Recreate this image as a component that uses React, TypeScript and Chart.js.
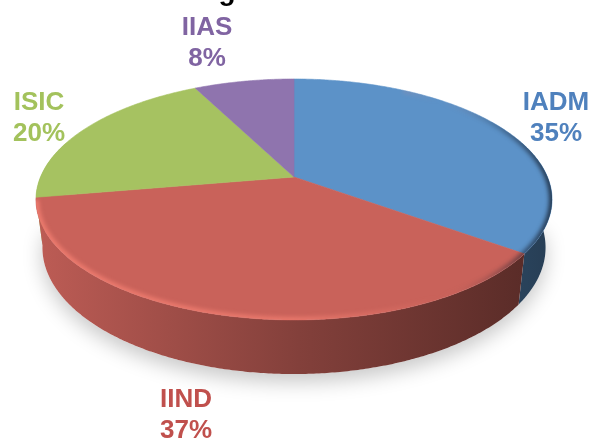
import React, { useEffect, useRef } from "react";
import { Chart, registerables } from "chart.js";

Chart.register(...registerables);

const categories = ["IADM", "IIND", "ISIC", "IIAS"];
const values = [35, 37.3, 20.2, 7.5];
const faceColors = ["#5c92c8", "#c9625a", "#a6c261", "#8f74ae"];
const labelColors = ["#4f81bd", "#c0504d", "#a3c25c", "#8064a2"];
const labelCenters = [[556, 103], [186, 400], [39, 103], [207, 28]];
const titleFragment = "g";

const CX = 294, APEX_Y = 177, K = 0.1867, RX = 253.5, RY = 116.3;
const EY = 199, DEPTH = 48, BOTTOM_SCALE = 0.975, BOTTOM_Y_SCALE = 1.05;

const topPoint = (a: number): [number, number] => {
  const u = Math.cos(a), v = Math.sin(a), w = 1 - K * v;
  return [CX + (RX * u) / w, APEX_Y + (RY * v) / w];
};
const bottomPoint = (a: number): [number, number] => {
  const [x, y] = topPoint(a);
  return [CX + (x - CX) * BOTTOM_SCALE, EY + DEPTH + (y - EY) * BOTTOM_Y_SCALE];
};
const hexRgb = (h: string) => [1, 3, 5].map((i) => parseInt(h.slice(i, i + 2), 16));
const shade = (hex: string, dark: number) => {
  const [r, g, b] = hexRgb(hex);
  const k = 1 - dark;
  return `rgb(${r * k},${g * k},${b * k})`;
};

const pie3dPlugin = {
  id: "pie3d",
  beforeDatasetsDraw(chart: any) {
    const ctx: CanvasRenderingContext2D = chart.ctx;
    const arcs = chart.getDatasetMeta(0).data;
    const step = Math.PI / 360;

    // soft ground shadow
    ctx.save();
    ctx.shadowColor = "rgba(0,0,0,0.22)";
    ctx.shadowBlur = 20;
    ctx.shadowOffsetY = 8;
    ctx.fillStyle = "#fff";
    ctx.beginPath();
    for (let a = 0; a < Math.PI; a += step) {
      const [x, y] = bottomPoint(a);
      ctx.lineTo(x, y);
    }
    ctx.closePath();
    ctx.fill();
    ctx.restore();

    // side wall of every slice facing the viewer, back to front
    const lo = -0.1 * Math.PI, hi = 1.1 * Math.PI;
    [2, 0, 1].forEach((i) => {
      const arc = arcs[i];
      const s = Math.max(arc.startAngle, lo), e = Math.min(arc.endAngle, hi);
      if (e <= s) return;
      const g = ctx.createLinearGradient(36, 0, 552, 0);
      g.addColorStop(0, shade(faceColors[i], 0.06));
      g.addColorStop(0.51, shade(faceColors[i], 0.35));
      g.addColorStop(0.95, shade(faceColors[i], 0.55));
      g.addColorStop(1, shade(faceColors[i], 0.58));
      ctx.fillStyle = g;
      ctx.beginPath();
      for (let a = s; a < e; a += step) {
        const [x, y] = topPoint(a);
        ctx.lineTo(x, y);
      }
      const [tx, ty] = topPoint(e);
      ctx.lineTo(tx, ty);
      const [bx, by] = bottomPoint(e);
      ctx.lineTo(bx, by);
      for (let a = e; a > s; a -= step) {
        const [x, y] = bottomPoint(a);
        ctx.lineTo(x, y);
      }
      const [ex, ey] = bottomPoint(s);
      ctx.lineTo(ex, ey);
      ctx.closePath();
      ctx.fill();
    });

    // top faces
    arcs.forEach((arc: any, i: number) => {
      ctx.fillStyle = faceColors[i];
      ctx.strokeStyle = faceColors[i];
      ctx.lineWidth = 0.6;
      ctx.beginPath();
      ctx.moveTo(CX, APEX_Y);
      for (let a = arc.startAngle; a < arc.endAngle; a += step) {
        const [x, y] = topPoint(a);
        ctx.lineTo(x, y);
      }
      const [x, y] = topPoint(arc.endAngle);
      ctx.lineTo(x, y);
      ctx.closePath();
      ctx.fill();
      ctx.stroke();
    });

    // bevel inside the rim: light on the left and front, dark on the right
    const glow = ctx.createLinearGradient(36, 0, 552, 0);
    glow.addColorStop(0, "rgba(255,135,120,0.7)");
    glow.addColorStop(0.5, "rgba(255,135,120,0.6)");
    glow.addColorStop(0.78, "rgba(255,135,120,0)");
    glow.addColorStop(0.88, "rgba(20,30,45,0.2)");
    glow.addColorStop(1, "rgba(20,30,45,0.8)");
    ctx.save();
    ctx.beginPath();
    for (let a = 0; a < Math.PI * 2; a += step) {
      const [x, y] = topPoint(a);
      ctx.lineTo(x, y);
    }
    ctx.closePath();
    ctx.clip();
    ctx.filter = "blur(2px)";
    ctx.strokeStyle = glow;
    ctx.lineWidth = 6;
    ctx.beginPath();
    for (let a = -Math.PI / 3; a < Math.PI * 0.94; a += step) {
      const [x, y] = topPoint(a);
      ctx.lineTo(x, y);
    }
    ctx.stroke();
    ctx.restore();

    return false;
  },
  afterDraw(chart: any) {
    const ctx: CanvasRenderingContext2D = chart.ctx;
    const total = values.reduce((s, v) => s + v, 0);
    ctx.save();
    ctx.textAlign = "center";
    ctx.textBaseline = "middle";
    ctx.font = 'bold 26px "Liberation Sans", Arial, sans-serif';
    categories.forEach((c, i) => {
      const [x, y] = labelCenters[i];
      ctx.fillStyle = labelColors[i];
      ctx.fillText(c, x, y);
      ctx.fillText(`${Math.round((values[i] / total) * 100)}%`, x, y + 31);
    });
    ctx.fillStyle = "#000";
    ctx.textBaseline = "alphabetic";
    ctx.font = 'bold 28px "Liberation Sans", Arial, sans-serif';
    ctx.fillText(titleFragment, 227, 0);
    ctx.restore();
  },
};

export default function App() {
  const ref = useRef<HTMLCanvasElement>(null);
  useEffect(() => {
    const chart = new Chart(ref.current as HTMLCanvasElement, {
      type: "pie",
      data: {
        labels: categories,
        datasets: [{ data: values, backgroundColor: faceColors, borderWidth: 0 }],
      },
      options: {
        animation: false,
        responsive: false,
        plugins: { legend: { display: false }, tooltip: { enabled: false } },
      },
      plugins: [pie3dPlugin],
    } as any);
    return () => chart.destroy();
  }, []);
  return (
    <div style={{ position: "absolute", left: 0, top: 0, width: 590, height: 440, background: "#fff" }}>
      <canvas ref={ref} width={590} height={440} style={{ display: "block" }} />
    </div>
  );
}
